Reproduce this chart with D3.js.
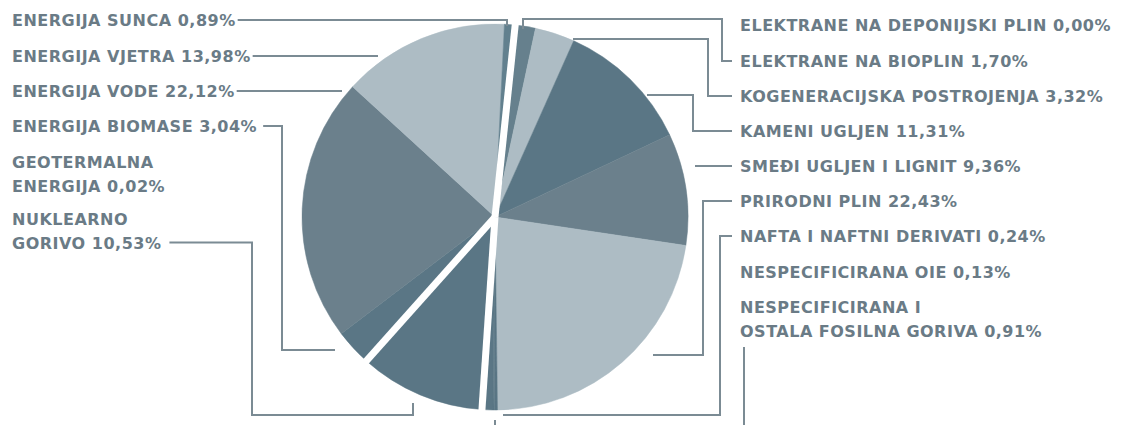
<!DOCTYPE html>
<html>
<head>
<meta charset="utf-8">
<script src="https://cdn.jsdelivr.net/npm/d3@7"></script>
<style>
body { margin: 0; background: #fff; }
text { font-family: "DejaVu Sans"; font-weight: 700; font-size: 16px; letter-spacing: 0.5px; fill: #6a7b86; }
</style>
</head>
<body>
<svg id="chart"></svg>
<script>
// udjeli u proizvodnji (%), redom u smjeru kazaljke od vrha
const categories = [
    'ELEKTRANE NA DEPONIJSKI PLIN', 'ELEKTRANE NA BIOPLIN', 'KOGENERACIJSKA POSTROJENJA',
    'KAMENI UGLJEN', 'SMEĐI UGLJEN I LIGNIT', 'PRIRODNI PLIN', 'NAFTA I NAFTNI DERIVATI',
    'NESPECIFICIRANA OIE', 'NESPECIFICIRANA I OSTALA FOSILNA GORIVA', 'NUKLEARNO GORIVO',
    'GEOTERMALNA ENERGIJA', 'ENERGIJA BIOMASE', 'ENERGIJA VODE', 'ENERGIJA VJETRA', 'ENERGIJA SUNCA'
];
const shares = [0.00, 1.70, 3.32, 11.31, 9.36, 22.43, 0.24, 0.13, 0.91, 10.53, 0.02, 3.04, 22.12, 13.98, 0.89];
const leftOrder = ['ENERGIJA SUNCA', 'ENERGIJA VJETRA', 'ENERGIJA VODE', 'ENERGIJA BIOMASE',
    'GEOTERMALNA ENERGIJA', 'NUKLEARNO GORIVO'];
const rightOrder = ['ELEKTRANE NA DEPONIJSKI PLIN', 'ELEKTRANE NA BIOPLIN', 'KOGENERACIJSKA POSTROJENJA',
    'KAMENI UGLJEN', 'SMEĐI UGLJEN I LIGNIT', 'PRIRODNI PLIN', 'NAFTA I NAFTNI DERIVATI',
    'NESPECIFICIRANA OIE', 'NESPECIFICIRANA I OSTALA FOSILNA GORIVA'];
// granice skupina (nakon kojeg udjela ide bijeli razmak)
const groupBreaks = ['ENERGIJA SUNCA', 'NESPECIFICIRANA I OSTALA FOSILNA GORIVA', 'NUKLEARNO GORIVO'];

const width = 1123, height = 425;
const cx = 495, cy = 217, radius = 193;
const light = '#adbcc4', mid = '#6b808c', dark = '#5a7685';

const color = d3.scaleOrdinal()
    .domain(categories)
    .range([dark, '#66808d', light, dark, mid, light, dark, dark, dark, dark, dark, dark, mid, light, '#62808e']);

// prelamanje dugih natpisa
const wrap = {
    'GEOTERMALNA ENERGIJA': ['GEOTERMALNA', 'ENERGIJA'],
    'NUKLEARNO GORIVO': ['NUKLEARNO', 'GORIVO'],
    'NESPECIFICIRANA I OSTALA FOSILNA GORIVA': ['NESPECIFICIRANA I', 'OSTALA FOSILNA GORIVA']
};
const leftBaselines = [26, 62, 97, 132, 168, 225];
const rightBaselines = [31, 67, 102, 137, 172, 207, 242, 278, 313];
const lineGap = 23.5;

const fmt = v => v.toFixed(2).replace('.', ',') + '%';

const chart = d3.select('#chart')
    .attr('width', width)
    .attr('height', height);

const start = 6 * Math.PI / 180;
const pie = d3.pie()
    .sort(null)
    .value(d => d.value)
    .startAngle(start)
    .endAngle(start + 2 * Math.PI);
const arcs = pie(categories.map((c, i) => ({ name: c, value: shares[i] })));
const arc = d3.arc().innerRadius(0).outerRadius(radius);

const g = chart.append('g').attr('transform', `translate(${cx},${cy})`);
g.selectAll('path')
    .data(arcs)
    .enter().append('path')
    .attr('d', arc)
    .style('fill', d => color(d.data.name))
    .style('stroke', d => color(d.data.name))
    .style('stroke-width', 0.5);

// bijeli razmaci izmedu skupina
g.selectAll('line.gap')
    .data(arcs.filter(d => groupBreaks.includes(d.data.name)))
    .enter().append('line')
    .classed('gap', true)
    .attr('x1', 0).attr('y1', 0)
    .attr('x2', d => Math.sin(d.endAngle) * (radius + 6))
    .attr('y2', d => -Math.cos(d.endAngle) * (radius + 6))
    .style('stroke', '#fff')
    .style('stroke-width', 7);

function drawLabel(name, x, baseline) {
    const value = fmt(shares[categories.indexOf(name)]);
    const lines = wrap[name] ? [wrap[name][0], wrap[name][1] + ' ' + value] : [name + ' ' + value];
    const t = chart.append('text').attr('x', x).attr('y', baseline);
    lines.forEach((l, i) => t.append('tspan')
        .attr('x', x)
        .attr('y', baseline + i * lineGap)
        .text(l));
    const last = t.selectAll('tspan').nodes().pop();
    return { end: x + last.getComputedTextLength(), y: baseline + (lines.length - 1) * lineGap - 6 };
}

const leftEnds = {};
leftOrder.forEach((n, i) => { leftEnds[n] = drawLabel(n, 12, leftBaselines[i]); });
const rightEnds = {};
rightOrder.forEach((n, i) => { rightEnds[n] = drawLabel(n, 740, rightBaselines[i]); });

// vodilice: od natpisa do kriske
const R = 732;
const leaders = [
    (l => [[l.end + 2, l.y], [507, l.y], [507, 26]])(leftEnds['ENERGIJA SUNCA']),
    (l => [[l.end + 2, l.y], [378, l.y]])(leftEnds['ENERGIJA VJETRA']),
    (l => [[l.end + 2, l.y], [342, l.y]])(leftEnds['ENERGIJA VODE']),
    (l => [[l.end + 6, l.y], [282, l.y], [282, 350], [335, 350]])(leftEnds['ENERGIJA BIOMASE']),
    (l => [[l.end + 8, l.y], [252, l.y], [252, 415], [413, 415], [413, 403]])(leftEnds['NUKLEARNO GORIVO']),
    (r => [[523, 29], [523, 19], [722, 19], [722, r.y], [R, r.y]])(rightEnds['ELEKTRANE NA BIOPLIN']),
    (r => [[573, 39], [708, 39], [708, r.y], [R, r.y]])(rightEnds['KOGENERACIJSKA POSTROJENJA']),
    (r => [[647, 95], [693, 95], [693, r.y], [R, r.y]])(rightEnds['KAMENI UGLJEN']),
    (r => [[695, r.y], [R, r.y]])(rightEnds['SMEĐI UGLJEN I LIGNIT']),
    (r => [[653, 355], [703, 355], [703, r.y], [R, r.y]])(rightEnds['PRIRODNI PLIN']),
    (r => [[503, 415], [720, 415], [720, r.y], [R, r.y]])(rightEnds['NAFTA I NAFTNI DERIVATI']),
    [[744, 347], [744, 430]],
    [[495, 420], [495, 430]]
];

chart.selectAll('path.leader')
    .data(leaders)
    .enter().append('path')
    .classed('leader', true)
    .attr('d', d3.line())
    .style('fill', 'none')
    .style('stroke', '#7b8b94')
    .style('stroke-width', 2);
</script>
</body>
</html>
